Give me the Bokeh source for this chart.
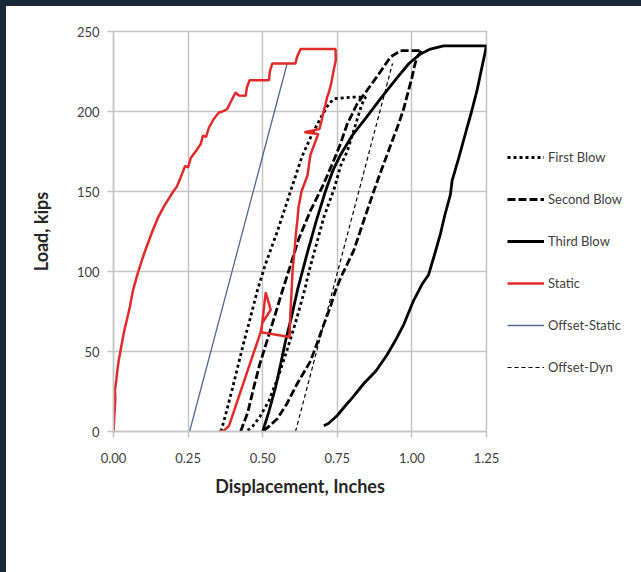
from bokeh.plotting import figure
from bokeh.models import Range1d, FixedTicker, Legend, LegendItem
from bokeh.layouts import column, row
from bokeh.embed import file_html
from bokeh.resources import INLINE

# ---- data ----
x_ticks = [0.0, 0.25, 0.5, 0.75, 1.0, 1.25]
x_tick_labels = ["0.00", "0.25", "0.50", "0.75", "1.00", "1.25"]
y_ticks = [0, 50, 100, 150, 200, 250]
y_tick_labels = ["0", "50", "100", "150", "200", "250"]

series_names = ["First Blow", "Second Blow", "Third Blow", "Static", "Offset-Static", "Offset-Dyn"]

first_x = [0.36, 0.375, 0.40, 0.437, 0.46, 0.482, 0.51, 0.549, 0.593, 0.632, 0.661, 0.694, 0.722, 0.74, 0.80, 0.845,
           0.836, 0.828, 0.805, 0.783, 0.761, 0.74, 0.705, 0.68, 0.655, 0.64, 0.61, 0.58, 0.55, 0.52, 0.49, 0.465, 0.445]
first_y = [0, 10, 28, 56, 72, 88, 105, 125, 150, 172, 184, 196, 205, 208, 209, 209,
           206, 202, 188, 175, 166, 152, 134, 117, 100, 88, 68, 50, 33, 19, 9, 3, 0]

second_x = [0.426, 0.45, 0.47, 0.49, 0.515, 0.54, 0.566, 0.59, 0.62, 0.66, 0.70, 0.735, 0.761, 0.783, 0.817, 0.845,
            0.872, 0.895, 0.928, 0.962, 1.034,
            1.025, 1.017, 1.008, 1.0, 0.987, 0.973, 0.955, 0.939, 0.917, 0.895, 0.872, 0.839, 0.805, 0.761, 0.744,
            0.725, 0.705, 0.68, 0.66, 0.616, 0.58, 0.549, 0.52, 0.5]
second_y = [0, 12, 27.5, 42, 57, 72, 88, 102, 120, 138, 153, 168, 180, 192, 205, 212,
            219, 225, 234, 238, 238,
            236, 234, 228, 221, 212, 202, 192, 184, 173, 162, 150, 132, 113, 96, 88,
            77, 67, 54, 44, 30, 17, 8, 3, 0]

third_x = [0.5, 0.52, 0.543, 0.56, 0.577, 0.597, 0.616, 0.65, 0.68, 0.71, 0.735, 0.761, 0.80, 0.85, 0.895, 0.95,
           0.99, 1.029, 1.062, 1.106, 1.15, 1.25,
           1.235, 1.218, 1.2, 1.185, 1.157, 1.135, 1.129, 1.11, 1.095, 1.075, 1.056, 1.034, 1.006, 0.973, 0.945,
           0.917, 0.88, 0.839, 0.8, 0.772, 0.75, 0.72, 0.705]
third_y = [0, 12, 27.5, 42, 57, 72, 88, 112, 132, 150, 163, 173, 185, 197, 208, 221,
           230, 236, 239, 241, 241, 241,
           228, 213, 200, 190, 171, 157, 148, 135, 123, 110, 98, 92, 82, 67, 57,
           48, 38, 30, 21, 15, 10, 5, 3.6]

static_x = [0.0, 0.003, 0.006, 0.005, 0.01, 0.014, 0.02, 0.027, 0.035, 0.045, 0.055, 0.065, 0.08, 0.095, 0.11,
            0.13, 0.15, 0.17, 0.19, 0.2, 0.212, 0.225, 0.24, 0.25, 0.259, 0.275, 0.292, 0.3, 0.31, 0.32,
            0.335, 0.353, 0.365, 0.381, 0.39, 0.409, 0.42, 0.443, 0.447, 0.456, 0.521, 0.524, 0.532, 0.61, 0.615,
            0.627, 0.744,
            0.745, 0.738, 0.73, 0.722, 0.716, 0.71, 0.704, 0.697, 0.69, 0.64, 0.686, 0.67, 0.66, 0.65, 0.63, 0.62,
            0.616, 0.612, 0.606, 0.6, 0.597, 0.593, 0.59, 0.495, 0.51, 0.527, 0.499, 0.493, 0.387, 0.37, 0.353]
static_y = [0, 10, 20, 26, 33, 40, 47, 54, 62, 70, 78, 88, 98, 107, 115,
            125, 134, 141, 147, 150, 153, 158.8, 166, 165, 171, 175, 179.6, 185, 184, 190,
            195, 199.4, 200, 201.5, 205, 211.9, 210, 209.8, 215, 219.6, 219.6, 225, 230, 230, 234,
            239, 239,
            232, 226, 218, 212, 209, 204, 200, 194, 189, 187, 186, 178, 173, 160, 150, 140,
            131.6, 125, 112, 100, 88, 75, 59, 62, 87, 76, 68, 62, 3.5, 0.5, 0]

offset_static_x = [0.255, 0.582]
offset_static_y = [0, 230]
offset_dyn_x = [0.61, 0.935]
offset_dyn_y = [0, 230]

# ---- styles ----
FONT = "Lato"
grid_col = "#c4c4c4"
styles = [
    dict(line_color="black", line_width=2.8, line_dash="3 3"),      # First Blow
    dict(line_color="black", line_width=2.8, line_dash="8 3"),      # Second Blow
    dict(line_color="black", line_width=2.8),                        # Third Blow
    dict(line_color="#e32a2a", line_width=2.5),                      # Static
    dict(line_color="#55688f", line_width=1.3),                      # Offset-Static
    dict(line_color="black", line_width=1.2, line_dash="4 3"),       # Offset-Dyn
]
series_x = [first_x, second_x, third_x, static_x, offset_static_x, offset_dyn_x]
series_y = [first_y, second_y, third_y, static_y, offset_static_y, offset_dyn_y]

# ---- main chart ----
p = figure(width=494, height=566, x_range=Range1d(0, 1.25), y_range=Range1d(0, 250),
           output_backend="svg", toolbar_location=None,
           min_border_left=107, min_border_right=14, min_border_top=25, min_border_bottom=141)
p.background_fill_color = "white"
p.border_fill_color = "white"
p.outline_line_color = grid_col
p.outline_line_width = 1.5

p.xgrid.ticker = FixedTicker(ticks=x_ticks)
p.ygrid.ticker = FixedTicker(ticks=y_ticks)
p.xgrid.grid_line_color = grid_col
p.ygrid.grid_line_color = grid_col
p.xgrid.grid_line_width = 1.5
p.ygrid.grid_line_width = 1.5

p.xaxis.ticker = FixedTicker(ticks=x_ticks)
p.yaxis.ticker = FixedTicker(ticks=y_ticks)
p.xaxis.major_label_overrides = {t: l for t, l in zip(x_ticks, x_tick_labels)}
p.yaxis.major_label_overrides = {t: l for t, l in zip(y_ticks, y_tick_labels)}
for ax in (p.xaxis[0], p.yaxis[0]):
    ax.axis_line_color = grid_col
    ax.axis_line_width = 1.5
    ax.major_tick_line_color = grid_col
    ax.major_tick_line_width = 1.5
    ax.major_tick_out = 6
    ax.major_tick_in = 0
    ax.minor_tick_line_color = None
    ax.major_label_text_font = FONT
    ax.major_label_text_font_size = "13px"
    ax.major_label_text_color = "#404040"
    ax.axis_label_text_font = FONT
    ax.axis_label_text_font_size = "18px"
    ax.axis_label_text_font_style = "bold"
    ax.axis_label_text_color = "#262626"

p.xaxis.axis_label = "Displacement, Inches"
p.yaxis.axis_label = "Load, kips"
p.xaxis.major_label_standoff = 15
p.xaxis.axis_label_standoff = 9
p.yaxis.major_label_standoff = 8
p.yaxis.axis_label_standoff = 22

# draw order: offsets first, then blows, static on top
order = [4, 5, 0, 1, 2, 3]
for i in order:
    p.line(series_x[i], series_y[i], **styles[i])

# ---- legend panel (same series, ranges chosen so only the legend shows) ----
q = figure(width=141, height=566, x_range=Range1d(10, 11), y_range=Range1d(0, 250),
           output_backend="svg", toolbar_location=None,
           x_axis_type=None, y_axis_type=None, min_border=0)
q.outline_line_color = None
q.grid.visible = False
q.background_fill_color = "white"
q.border_fill_color = "white"
legend_renderers = [q.line(series_x[i], series_y[i], **styles[i]) for i in range(len(series_names))]
legend = Legend(items=[LegendItem(label=n, renderers=[r]) for n, r in zip(series_names, legend_renderers)],
                location=(7, 54), orientation="vertical",
                glyph_width=37, glyph_height=20, label_height=20, label_standoff=4,
                spacing=22, padding=0, margin=0,
                label_text_font=FONT, label_text_font_size="13px", label_text_color="#404040",
                background_fill_alpha=0, border_line_color=None)
q.add_layout(legend)

inner = row(p, q, margin=(6, 0, 0, 6), styles={"background-color": "white"})
layout = column(inner, styles={"background-color": "#1b2838"})
open("out.html", "w").write(file_html(layout, INLINE))
